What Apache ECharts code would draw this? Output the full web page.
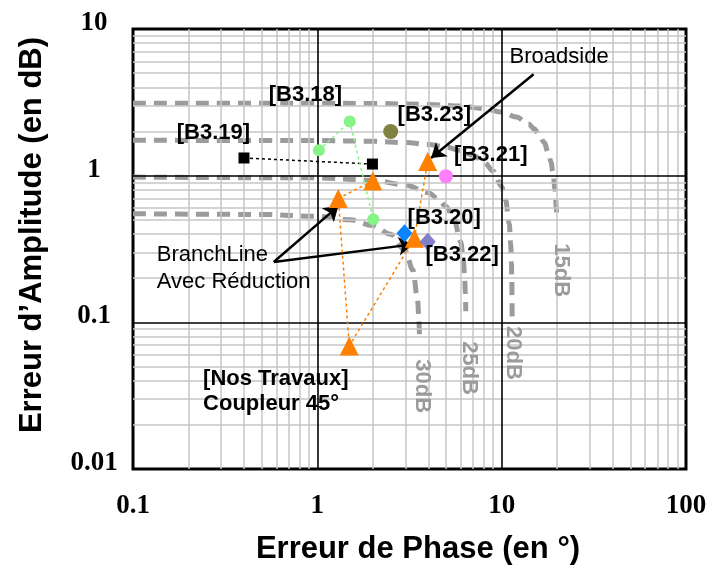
<!DOCTYPE html>
<html>
<head>
<meta charset="utf-8">
<script src="https://cdn.jsdelivr.net/npm/echarts@6/dist/echarts.min.js"></script>
<style>
  html, body { margin: 0; padding: 0; background: #fff; }
  #chart { width: 715px; height: 575px; }
</style>
</head>
<body>
<div id="chart"></div>
<script>
// Axis ticks (log scales)
const xTickValues = [0.1, 1, 10, 100];
const xTickLabels = ['0.1', '1', '10', '100'];
const yTickValues = [0.01, 0.1, 1, 10];
const yTickLabels = ['0.01', '0.1', '1', '10'];
const xMinorTicks = [0.2, 0.3, 0.4, 0.5, 0.6, 0.7, 0.8, 0.9, 2, 3, 4, 5, 6, 7, 8, 9, 20, 30, 40, 50, 60, 70, 80, 90];
const yMinorTicks = [0.02, 0.03, 0.04, 0.05, 0.06, 0.07, 0.08, 0.09, 0.2, 0.3, 0.4, 0.5, 0.6, 0.7, 0.8, 0.9, 2, 3, 4, 5, 6, 7, 8, 9];
const xMajorInner = [1, 10];
const yMajorInner = [0.1, 1];

// Isolation contours: phase error (deg) and amplitude error (dB)
const iso15Phase = [0.1, 1, 2, 4, 6, 8, 10, 12, 14, 15, 16, 17, 18, 18.5, 19, 19.5, 19.8, 19.9];
const iso15Amp   = [3.122, 3.118, 3.107, 3.060, 2.981, 2.866, 2.712, 2.510, 2.248, 2.087, 1.901, 1.680, 1.408, 1.243, 1.047, 0.797, 0.593, 0.506];
const iso20Phase = [0.1, 1, 2, 3, 4, 5, 6, 7, 8, 9, 10, 10.5, 11, 11.2, 11.3, 11.35, 11.4];
const iso20Amp   = [1.743, 1.736, 1.716, 1.682, 1.633, 1.567, 1.483, 1.377, 1.244, 1.073, 0.842, 0.686, 0.469, 0.341, 0.253, 0.194, 0.106];
const iso25Phase = [0.1, 1, 2, 3, 4, 4.5, 5, 5.5, 6, 6.2, 6.3, 6.35, 6.39];
const iso25Amp   = [0.978, 0.966, 0.930, 0.865, 0.766, 0.699, 0.616, 0.508, 0.354, 0.263, 0.201, 0.161, 0.119];
const iso30Phase = [0.1, 0.5, 1, 1.5, 2, 2.5, 3, 3.3, 3.5, 3.55, 3.58];
const iso30Amp   = [0.550, 0.544, 0.528, 0.500, 0.458, 0.398, 0.308, 0.227, 0.142, 0.109, 0.083];
const isoNames = ['15dB', '20dB', '25dB', '30dB'];

// Published couplers: phase error (deg), amplitude error (dB)
const b319Phase = [0.40, 1.99];
const b319Amp   = [1.32, 1.20];
const b318Phase = [1.02, 1.50, 2.01];
const b318Amp   = [1.49, 2.34, 0.505];
const b323Phase = [2.5];
const b323Amp   = [2.0];
const b321Phase = [4.98];
const b321Amp   = [0.99];
const b320Phase = [2.97];
const b320Amp   = [0.405];
const b322Phase = [3.97];
const b322Amp   = [0.355];
// Our couplers (45°): BranchLine with reduction, Broadside
const oursPhase = [2.0, 1.30, 1.49, 3.36, 3.97];
const oursAmp   = [0.92, 0.70, 0.069, 0.374, 1.247];

// Annotation anchors (phase, amplitude)
const textAnchors = [
  { text: '[B3.18]', at: [0.862, 3.53] },
  { text: '[B3.19]', at: [0.273, 1.97] },
  { text: '[B3.23]', at: [4.31, 2.58] },
  { text: '[B3.21]', at: [8.73, 1.39] },
  { text: '[B3.20]', at: [4.88, 0.516] },
  { text: '[B3.22]', at: [6.10, 0.288] }
];
const isoLabelAnchors = [[21.0, 0.227], [11.46, 0.0618], [6.65, 0.0488], [3.71, 0.0367]];
const broadsideAnchor = [20.5, 6.43];
const branchAnchor = [0.1346, 0.234];
const oursAnchor = [0.24, 0.034];
const arrowBroadside = [[14.9, 4.92], [4.14, 1.32]];
const arrowBranch1 = [[0.58, 0.258], [1.30, 0.62]];
const arrowBranch2 = [[0.58, 0.258], [3.29, 0.34]];

const zip = (xs, ys) => xs.map((x, i) => [x, ys[i]]);
const tickFmt = (vals, labels) => v => {
  const i = vals.findIndex(t => Math.abs(Math.log10(t) - Math.log10(v)) < 1e-6);
  return i >= 0 ? labels[i] : '';
};

const SANS = 'Liberation Sans, Arial, sans-serif';
const SERIF = 'Liberation Serif, Times New Roman, serif';
const ISO_GRAY = '#9b9b9b';

const gridLines = []
  .concat(xMinorTicks.map(v => ({ xAxis: v })))
  .concat(yMinorTicks.map(v => ({ yAxis: v })))
  .concat(xMajorInner.map(v => ({ xAxis: v, lineStyle: { color: '#000', width: 1.6 } })))
  .concat(yMajorInner.map(v => ({ yAxis: v, lineStyle: { color: '#000', width: 1.6 } })));

const isoSeries = [
  [iso15Phase, iso15Amp], [iso20Phase, iso20Amp], [iso25Phase, iso25Amp], [iso30Phase, iso30Amp]
].map((c, i) => ({
  name: isoNames[i],
  type: 'line',
  data: zip(c[0], c[1]),
  showSymbol: false,
  symbol: 'none',
  smooth: 0.35,
  smoothMonotone: 'x',
  lineStyle: { color: ISO_GRAY, width: 5, type: [13, 8], cap: 'butt' },
  z: 3,
  silent: true
}));

const labelSeries = {
  type: 'scatter',
  symbolSize: 0,
  silent: true,
  z: 8,
  itemStyle: { opacity: 1 },
  data: [].concat(
    textAnchors.map(a => ({
      value: a.at, name: a.text,
      label: { fontWeight: 'bold' }
    })),
    isoLabelAnchors.map((p, i) => ({
      value: p, name: isoNames[i],
      label: { fontWeight: 'bold', color: ISO_GRAY, rotate: -90 }
    })),
    [{ value: broadsideAnchor, name: 'Broadside', label: { fontWeight: 'normal' } }],
    [{ value: branchAnchor, name: 'BranchLine\nAvec Réduction',
       label: { fontWeight: 'normal', align: 'left', lineHeight: 27 } }],
    [{ value: oursAnchor, name: '[Nos Travaux]\nCoupleur 45°',
       label: { fontWeight: 'bold', align: 'left', lineHeight: 25 } }]
  ),
  label: {
    show: true,
    position: 'inside',
    formatter: p => p.name,
    fontFamily: SANS,
    fontSize: 22,
    color: '#000',
    opacity: 1,
    textBorderWidth: 0,
    align: 'center',
    verticalAlign: 'middle'
  }
};

const arrowSeries = {
  type: 'line',
  data: [],
  z: 9,
  silent: true,
  markLine: {
    silent: true,
    animation: false,
    symbol: ['none', 'arrow'],
    symbolSize: 14,
    label: { show: false },
    lineStyle: { color: '#000', width: 2.5, type: 'solid', opacity: 1 },
    data: [arrowBroadside, arrowBranch1, arrowBranch2].map(a => [{ coord: a[0] }, { coord: a[1] }])
  }
};

const chart = echarts.init(document.getElementById('chart'), null, { renderer: 'canvas' });
chart.setOption({
  animation: false,
  backgroundColor: '#fff',
  grid: { left: 133, right: 29, top: 29, bottom: 106, show: true, borderColor: '#000', borderWidth: 3, backgroundColor: 'transparent' },
  xAxis: {
    type: 'log', logBase: 10, min: 0.1, max: 100,
    axisLine: { show: false }, axisTick: { show: false },
    splitLine: { show: false },
    axisLabel: { formatter: tickFmt(xTickValues, xTickLabels), fontFamily: SERIF, fontWeight: 'bold', fontSize: 27, color: '#000', margin: 24 }
  },
  yAxis: {
    type: 'log', logBase: 10, min: 0.01, max: 10,
    axisLine: { show: false }, axisTick: { show: false },
    splitLine: { show: false },
    axisLabel: { formatter: tickFmt(yTickValues, yTickLabels), fontFamily: SERIF, fontWeight: 'bold', fontSize: 27, color: '#000', margin: 39, align: 'center', verticalAlign: 'bottom', lineHeight: 12 }
  },
  graphic: [
    { type: 'text', x: 418, y: 549, style: { text: 'Erreur de Phase (en °)', font: 'bold 31px ' + SANS, fill: '#000', align: 'center', verticalAlign: 'middle' } },
    { type: 'text', x: 32, y: 235, rotation: Math.PI / 2, style: { text: 'Erreur d’Amplitude (en dB)', font: 'bold 31px ' + SANS, fill: '#000', align: 'center', verticalAlign: 'middle' } }
  ],
  series: [
    {
      type: 'line', data: [], z: 1, silent: true,
      markLine: {
        silent: true, animation: false, symbol: 'none', label: { show: false },
        lineStyle: { color: '#c6c6c6', width: 1.5, type: 'solid' },
        data: gridLines
      }
    },
    ...isoSeries,
    {
      name: '[B3.19]', type: 'line', data: zip(b319Phase, b319Amp), z: 5,
      symbol: 'rect', symbolSize: 11, itemStyle: { color: '#000' },
      lineStyle: { color: '#000', width: 1.5, type: [3, 3] }
    },
    {
      name: '[B3.18]', type: 'line', data: zip(b318Phase, b318Amp), z: 5,
      symbol: 'circle', symbolSize: 12, itemStyle: { color: '#86f386' },
      lineStyle: { color: '#86f386', width: 1.5, type: [3, 3] }
    },
    {
      name: 'Nos Travaux', type: 'line', data: zip(oursPhase, oursAmp), z: 5,
      symbol: 'triangle', symbolSize: 19, itemStyle: { color: '#ff8000' },
      lineStyle: { color: '#ff8000', width: 1.5, type: [3, 3] }
    },
    { name: '[B3.23]', type: 'scatter', data: zip(b323Phase, b323Amp), z: 6, symbol: 'circle', symbolSize: 15, itemStyle: { color: '#818142', opacity: 1 } },
    { name: '[B3.21]', type: 'scatter', data: zip(b321Phase, b321Amp), z: 6, symbol: 'circle', symbolSize: 14, itemStyle: { color: '#ff80ff', opacity: 1 } },
    { name: '[B3.20]', type: 'scatter', data: zip(b320Phase, b320Amp), z: 6, symbol: 'diamond', symbolSize: [16, 18], itemStyle: { color: '#0a84ff', opacity: 1 } },
    { name: '[B3.22]', type: 'scatter', data: zip(b322Phase, b322Amp), z: 6, symbol: 'diamond', symbolSize: [16, 18], itemStyle: { color: '#8080c8', opacity: 1 } },
    labelSeries,
    arrowSeries
  ]
});
</script>
</body>
</html>
